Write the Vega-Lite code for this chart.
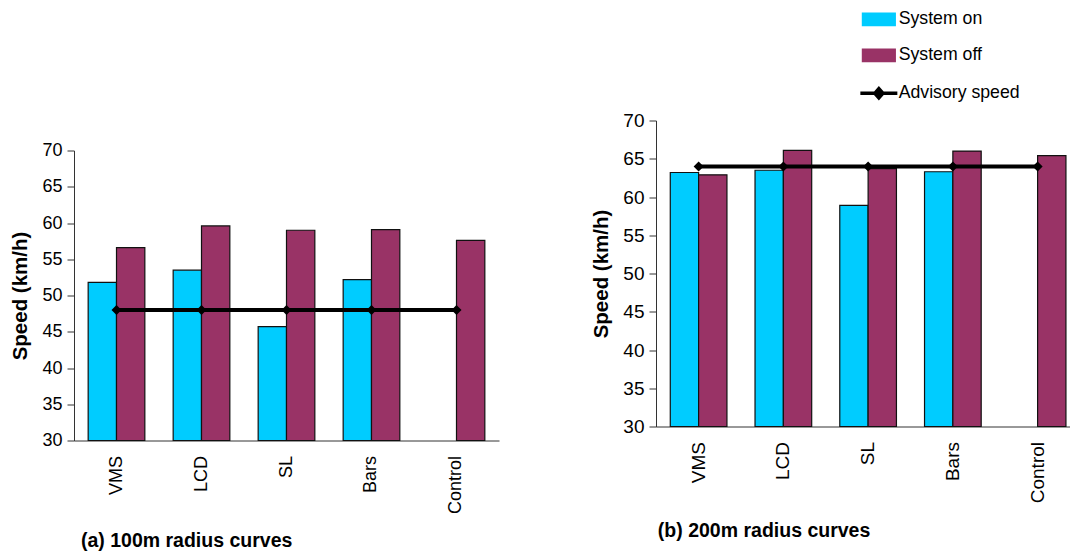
{
  "$schema": "https://vega.github.io/schema/vega-lite/v6.json",
  "autosize": {"type": "pad"},
  "padding": {"left": 10, "top": 10.5, "right": 0, "bottom": 0},
  "background": "white",
  "config": {
    "font": "Liberation Sans",
    "view": {"stroke": null},
    "axis": {
      "labelFont": "Liberation Sans", "labelFontSize": 18, "labelColor": "#000000",
      "domainColor": "#333333", "tickColor": "#333333", "grid": false,
      "titleFont": "Liberation Sans", "titleFontSize": 20.5, "titleFontWeight": "bold", "titleColor": "#000000"
    },
    "axisX": {"ticks": false, "labelAngle": -90, "labelPadding": 15, "title": null},
    "axisY": {"tickSize": 7, "labelPadding": 5, "titlePadding": 11, "values": [30, 35, 40, 45, 50, 55, 60, 65, 70]},
    "title": {"font": "Liberation Sans", "fontSize": 19.5, "fontWeight": "bold", "color": "#000000"}
  },
  "datasets": {
    "speeds": [
      {"curve": "100m", "treatment": "VMS", "series": "System on", "speed": 51.8},
      {"curve": "100m", "treatment": "VMS", "series": "System off", "speed": 56.6},
      {"curve": "100m", "treatment": "LCD", "series": "System on", "speed": 53.5},
      {"curve": "100m", "treatment": "LCD", "series": "System off", "speed": 59.6},
      {"curve": "100m", "treatment": "SL", "series": "System on", "speed": 45.7},
      {"curve": "100m", "treatment": "SL", "series": "System off", "speed": 59.0},
      {"curve": "100m", "treatment": "Bars", "series": "System on", "speed": 52.2},
      {"curve": "100m", "treatment": "Bars", "series": "System off", "speed": 59.1},
      {"curve": "100m", "treatment": "Control", "series": "System off", "speed": 57.6},
      {"curve": "100m", "treatment": "VMS", "series": "Advisory speed", "speed": 48},
      {"curve": "100m", "treatment": "LCD", "series": "Advisory speed", "speed": 48},
      {"curve": "100m", "treatment": "SL", "series": "Advisory speed", "speed": 48},
      {"curve": "100m", "treatment": "Bars", "series": "Advisory speed", "speed": 48},
      {"curve": "100m", "treatment": "Control", "series": "Advisory speed", "speed": 48},
      {"curve": "200m", "treatment": "VMS", "series": "System on", "speed": 63.2},
      {"curve": "200m", "treatment": "VMS", "series": "System off", "speed": 62.9},
      {"curve": "200m", "treatment": "LCD", "series": "System on", "speed": 63.5},
      {"curve": "200m", "treatment": "LCD", "series": "System off", "speed": 66.1},
      {"curve": "200m", "treatment": "SL", "series": "System on", "speed": 58.9},
      {"curve": "200m", "treatment": "SL", "series": "System off", "speed": 63.7},
      {"curve": "200m", "treatment": "Bars", "series": "System on", "speed": 63.3},
      {"curve": "200m", "treatment": "Bars", "series": "System off", "speed": 66.0},
      {"curve": "200m", "treatment": "Control", "series": "System off", "speed": 65.4},
      {"curve": "200m", "treatment": "VMS", "series": "Advisory speed", "speed": 64},
      {"curve": "200m", "treatment": "LCD", "series": "Advisory speed", "speed": 64},
      {"curve": "200m", "treatment": "SL", "series": "Advisory speed", "speed": 64},
      {"curve": "200m", "treatment": "Bars", "series": "Advisory speed", "speed": 64},
      {"curve": "200m", "treatment": "Control", "series": "Advisory speed", "speed": 64}
    ]
  },
  "spacing": 92,
  "resolve": {"scale": {"color": "shared"}, "legend": {"color": "shared"}},
  "hconcat": [
    {
      "data": {"name": "speeds"},
      "transform": [{"filter": "datum.curve === '100m'"}],
      "width": 425,
      "height": 320,
      "title": {"text": "(a) 100m radius curves", "orient": "bottom", "anchor": "start", "offset": 18, "dx": 70},
      "encoding": {
        "x": {"field": "treatment", "type": "nominal", "sort": ["VMS", "LCD", "SL", "Bars", "Control"],
              "scale": {"paddingInner": 0.3333, "paddingOuter": 0.1667}},
        "y": {"field": "speed", "type": "quantitative",
              "scale": {"domain": [30, 70], "range": [320, 30], "zero": false, "nice": false},
              "axis": {"title": "Speed (km/h)"}},
        "color": {"field": "series", "type": "nominal",
          "scale": {"domain": ["System on", "System off", "Advisory speed"], "range": ["#00CCFF", "#993366", "#000000"]},
          "legend": {
            "title": null, "orient": "none", "legendX": 796, "legendY": -110,
            "symbolSize": 1369, "labelFontSize": 17.7, "labelFont": "Liberation Sans", "labelColor": "#000000",
            "labelOffset": 11, "rowPadding": 17, "padding": 0,
            "encode": {"symbols": {"update": {
              "shape": {"signal": "datum.value === 'Advisory speed' ? 'M-1,0H1M-0.22,0L0,-0.25L0.22,0L0,0.25Z' : 'M-0.89,-0.34H0.89V0.34H-0.89Z'"},
              "fill": {"signal": "datum.value === 'System on' ? '#00CCFF' : (datum.value === 'System off' ? '#993366' : '#000000')"},
              "stroke": {"value": "#000000"},
              "strokeWidth": {"signal": "datum.value === 'Advisory speed' ? 3.5 : 1.2"},
              "opacity": {"value": 1}
            }}}
          }}
      },
      "layer": [
        {
          "transform": [{"filter": "datum.series !== 'Advisory speed'"}],
          "mark": {"type": "bar", "stroke": "#111111", "strokeWidth": 1.2},
          "encoding": {
            "y2": {"datum": 30},
            "xOffset": {"field": "series", "type": "nominal", "scale": {"domain": ["System on", "System off"], "paddingInner": 0, "paddingOuter": 0}}
          }
        },
        {
          "transform": [{"filter": "datum.series === 'Advisory speed'"}],
          "mark": {"type": "line", "strokeWidth": 4, "point": {"shape": "diamond", "size": 100, "filled": true, "color": "#000000"}},
          "encoding": {}
        }
      ]
    },
    {
      "data": {"name": "speeds"},
      "transform": [{"filter": "datum.curve === '200m'"}],
      "width": 414,
      "height": 306,
      "title": {"text": "(b) 200m radius curves", "orient": "bottom", "anchor": "start", "offset": 19, "dx": 66},
      "encoding": {
        "x": {"field": "treatment", "type": "nominal", "sort": ["VMS", "LCD", "SL", "Bars", "Control"],
              "scale": {"paddingInner": 0.331, "paddingOuter": 0.108, "align": 0.78},
              "axis": {"labelFontSize": 19}},
        "y": {"field": "speed", "type": "quantitative",
              "scale": {"domain": [30, 70], "zero": false, "nice": false},
              "axis": {"title": "Speed (km/h)", "labelFontSize": 19}},
        "color": {"field": "series", "type": "nominal",
          "scale": {"domain": ["System on", "System off", "Advisory speed"], "range": ["#00CCFF", "#993366", "#000000"]},
          "legend": {
            "title": null, "orient": "none", "legendX": 796, "legendY": -110,
            "symbolSize": 1369, "labelFontSize": 17.7, "labelFont": "Liberation Sans", "labelColor": "#000000",
            "labelOffset": 11, "rowPadding": 17, "padding": 0,
            "encode": {"symbols": {"update": {
              "shape": {"signal": "datum.value === 'Advisory speed' ? 'M-1,0H1M-0.22,0L0,-0.25L0.22,0L0,0.25Z' : 'M-0.89,-0.34H0.89V0.34H-0.89Z'"},
              "fill": {"signal": "datum.value === 'System on' ? '#00CCFF' : (datum.value === 'System off' ? '#993366' : '#000000')"},
              "stroke": {"value": "#000000"},
              "strokeWidth": {"signal": "datum.value === 'Advisory speed' ? 3.5 : 1.2"},
              "opacity": {"value": 1}
            }}}
          }}
      },
      "layer": [
        {
          "transform": [{"filter": "datum.series !== 'Advisory speed'"}],
          "mark": {"type": "bar", "stroke": "#111111", "strokeWidth": 1.2},
          "encoding": {
            "y2": {"datum": 30},
            "xOffset": {"field": "series", "type": "nominal", "scale": {"domain": ["System on", "System off"], "paddingInner": 0, "paddingOuter": 0}}
          }
        },
        {
          "transform": [{"filter": "datum.series === 'Advisory speed'"}],
          "mark": {"type": "line", "strokeWidth": 4, "point": {"shape": "diamond", "size": 100, "filled": true, "color": "#000000"}},
          "encoding": {}
        }
      ]
    }
  ]
}
